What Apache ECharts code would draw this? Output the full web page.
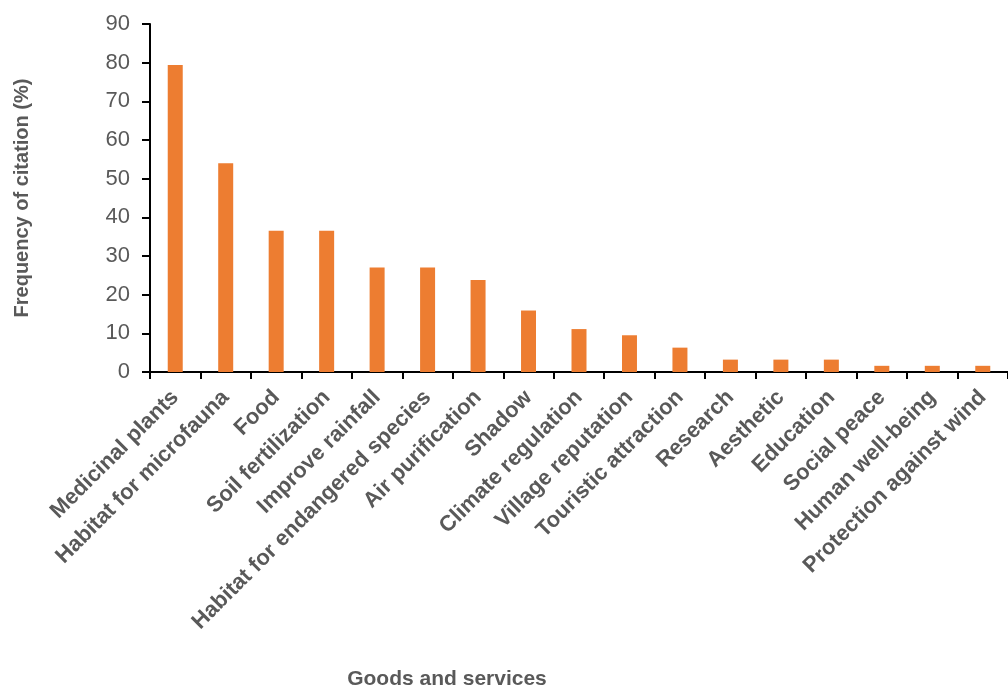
<!DOCTYPE html>
<html>
<head>
<meta charset="utf-8">
<script src="https://cdn.jsdelivr.net/npm/echarts@6/dist/echarts.min.js"></script>
<style>
  html, body { margin: 0; padding: 0; background: #fff; }
  #chart { width: 1008px; height: 688px; }
</style>
</head>
<body>
<div id="chart"></div>
<script>
// goods and services cited
const categories = [
  'Medicinal plants', 'Habitat for microfauna', 'Food', 'Soil fertilization',
  'Improve rainfall', 'Habitat for endangered species', 'Air purification', 'Shadow',
  'Climate regulation', 'Village reputation', 'Touristic attraction', 'Research',
  'Aesthetic', 'Education', 'Social peace', 'Human well-being', 'Protection against wind'
];
// frequency of citation (%)
const frequency = [79.4, 54.0, 36.5, 36.5, 27.0, 27.0, 23.8, 15.9, 11.1, 9.5, 6.3, 3.2, 3.2, 3.2, 1.6, 1.6, 1.6];
const yTicks = [0, 10, 20, 30, 40, 50, 60, 70, 80, 90];

const chart = echarts.init(document.getElementById('chart'));
const textColor = '#595959';
const font = 'Liberation Sans, Arial, sans-serif';

const option = {
  animation: false,
  grid: { left: 150, right: 0, top: 24, bottom: 316 },
  xAxis: {
    type: 'category',
    data: categories,
    axisLine: { lineStyle: { color: '#000', width: 2 } },
    axisTick: { show: true, length: 7, lineStyle: { color: '#000', width: 2 } },
    axisLabel: {
      rotate: 45,
      interval: 0,
      margin: 22,
      color: textColor,
      fontFamily: font,
      fontWeight: 'bold',
      fontSize: 22
    }
  },
  yAxis: {
    type: 'value',
    min: yTicks[0],
    max: yTicks[yTicks.length - 1],
    interval: 10,
    name: 'Frequency of citation (%)',
    nameLocation: 'middle',
    nameGap: 118,
    nameTextStyle: { color: textColor, fontFamily: font, fontWeight: 'bold', fontSize: 20 },
    axisLine: { show: true, lineStyle: { color: '#000', width: 2 } },
    axisTick: { show: true, length: 8, lineStyle: { color: '#000', width: 2 } },
    splitLine: { show: false },
    axisLabel: { color: textColor, fontFamily: font, fontSize: 22, margin: 20 }
  },
  series: [{
    type: 'bar',
    data: frequency,
    barWidth: 15,
    itemStyle: { color: '#ED7D31' }
  }],
  graphic: [{
    type: 'text',
    x: 447,
    y: 679,
    style: {
      text: 'Goods and services',
      fill: textColor,
      font: 'bold 21px Liberation Sans, Arial, sans-serif',
      textAlign: 'center',
      textVerticalAlign: 'middle'
    }
  }]
};
chart.setOption(option);
</script>
</body>
</html>
